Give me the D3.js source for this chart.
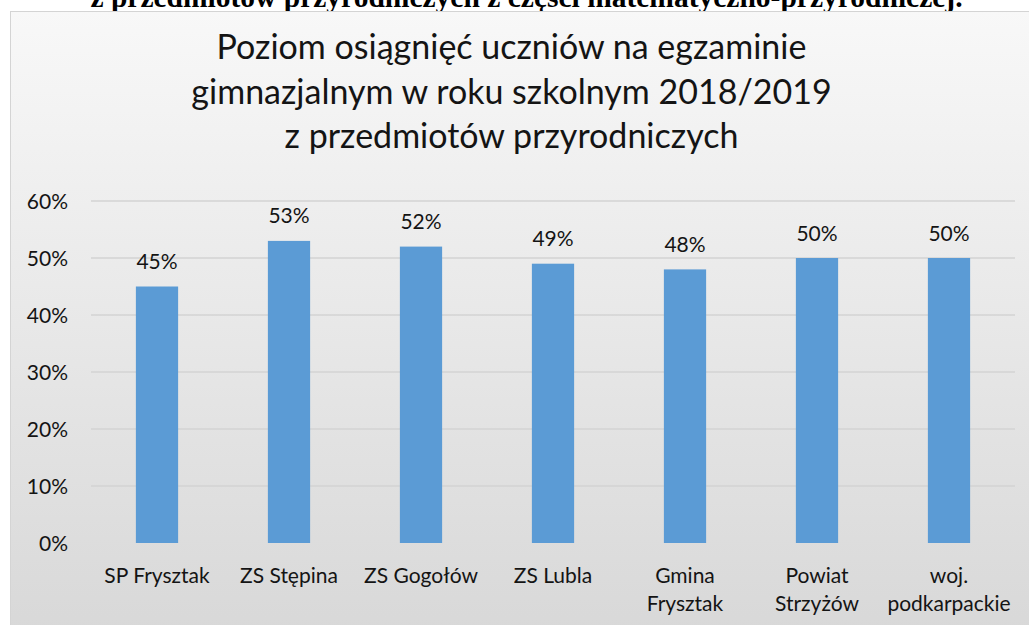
<!DOCTYPE html>
<html><head><meta charset="utf-8">
<script src="https://cdn.jsdelivr.net/npm/d3@7"></script>
<style>
html,body{margin:0;padding:0;background:#fff;overflow:hidden}
svg{display:block}
</style></head>
<body>
<svg id="c" width="1029" height="625"></svg>
<script>
const categories = [["SP Frysztak"],["ZS Stępina"],["ZS Gogołów"],["ZS Lubla"],["Gmina","Frysztak"],["Powiat","Strzyżów"],["woj.","podkarpackie"]];
const values = [0.45,0.53,0.52,0.49,0.48,0.50,0.50];
const yTicks = [0,0.1,0.2,0.3,0.4,0.5,0.6];
const titleLines = ["Poziom osiągnięć uczniów na egzaminie","gimnazjalnym w roku szkolnym 2018/2019","z przedmiotów przyrodniczych"];
const headerText = "z przedmiotów przyrodniczych z części matematyczno-przyrodniczej.";

const svg = d3.select("#c");
const F = "Lato, 'Open Sans', sans-serif";
const labelSize = 21, titleSize = 34;

// clipped heading from document
svg.append("text").attr("x",526.5).attr("y",7).attr("text-anchor","middle")
  .attr("font-family","'Liberation Serif','Times New Roman',serif").attr("font-weight","bold")
  .attr("font-size",29.5).attr("fill","#000").text(headerText);

const defs = svg.append("defs");
const g = defs.append("linearGradient").attr("id","bg").attr("x1",0).attr("y1",0).attr("x2",0).attr("y2",1);
g.append("stop").attr("offset","0%").attr("stop-color","#f8f8f8");
g.append("stop").attr("offset","100%").attr("stop-color","#d8d8d8");

svg.append("rect").attr("x",10.5).attr("y",11.5).attr("width",1030).attr("height",625)
  .attr("fill","url(#bg)").attr("stroke","#d4d4d4").attr("stroke-width",1);

// title
const t = svg.append("text").attr("font-family",F).attr("font-size",titleSize).attr("fill","#141414").attr("text-anchor","middle");
titleLines.forEach((l,i)=>t.append("tspan").attr("x",511.5).attr("y",59+i*44.5).text(l));

const x = d3.scaleBand().domain(d3.range(categories.length)).range([91,1015]).paddingInner(0.68).paddingOuter(0.34);
const y = d3.scaleLinear().domain([0,0.6]).range([543,201]);

// gridlines
svg.append("g").selectAll("line").data(yTicks.filter(d=>d>0)).join("line")
  .attr("x1",91).attr("x2",1015).attr("y1",d=>y(d)).attr("y2",d=>y(d))
  .attr("stroke","#d3d3d3").attr("stroke-width",1.5);

// y axis
const yAxis = d3.axisLeft(y).tickValues(yTicks).tickFormat(d3.format(".0%")).tickSize(0).tickPadding(0);
const ya = svg.append("g").attr("transform","translate(68,0)").call(yAxis);
ya.select(".domain").remove();
ya.selectAll("text").attr("font-family",F).attr("font-size",labelSize).attr("fill","#141414").attr("dy","0.35em");

// bars
svg.append("g").selectAll("rect").data(values).join("rect")
  .attr("x",(d,i)=>x(i)).attr("width",x.bandwidth())
  .attr("y",d=>y(d)).attr("height",d=>y(0)-y(d)).attr("fill","#5b9bd5");

// data labels
svg.append("g").selectAll("text").data(values).join("text")
  .attr("x",(d,i)=>x(i)+x.bandwidth()/2).attr("y",d=>y(d)-17.5)
  .attr("text-anchor","middle").attr("font-family",F).attr("font-size",labelSize).attr("fill","#141414")
  .text(d=>d3.format(".0%")(d));

// x axis labels
const xa = svg.append("g");
categories.forEach((c,i)=>{
  const tx = xa.append("text").attr("text-anchor","middle").attr("font-family",F).attr("font-size",labelSize).attr("fill","#141414");
  c.forEach((l,j)=>tx.append("tspan").attr("x",x(i)+x.bandwidth()/2).attr("y",583+j*28).text(l));
});
</script>
</body></html>
